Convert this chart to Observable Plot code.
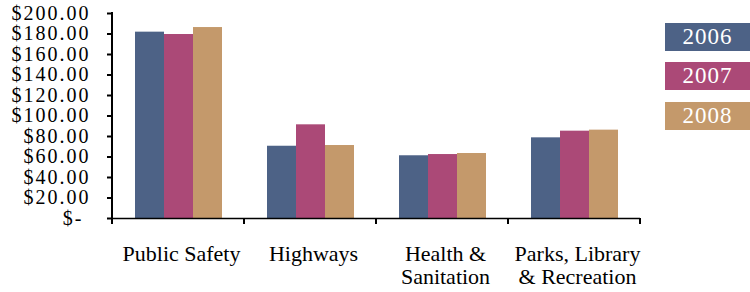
<!DOCTYPE html>
<html>
<head>
<meta charset="utf-8">
<script src="https://cdn.jsdelivr.net/npm/d3@7"></script>
<script src="https://cdn.jsdelivr.net/npm/@observablehq/plot@0.6"></script>
<style>
  html, body { margin: 0; padding: 0; background: #fff; }
  #chart { position: relative; width: 750px; height: 292px; overflow: hidden; font-family: "Liberation Serif", serif; }
  #chart svg { position: absolute; left: 0; top: 0; }
  g[aria-label="y-axis tick label"] text { letter-spacing: 2px; }
  .legend-item { position: absolute; color: #fff; font-size: 23px; letter-spacing: 1px; text-align: center; line-height: 28px; }
</style>
</head>
<body>
<div id="chart"></div>
<script>
const categories = ["Public Safety", "Highways", "Health & Sanitation", "Parks, Library & Recreation"];
const categoryLabels = ["Public Safety", "Highways", "Health &\nSanitation", "Parks, Library\n& Recreation"];
const years = ["2006", "2007", "2008"];
const values2006 = [181.8, 70.5, 61.2, 78.7];
const values2007 = [179.5, 91.4, 62.4, 85.2];
const values2008 = [186.3, 71.2, 63.4, 86.2];
const yTicks = [0, 20, 40, 60, 80, 100, 120, 140, 160, 180, 200];
const colors = ["#4d6286", "#ab4977", "#c4996b"];

const series = [values2006, values2007, values2008];
const data = [];
categories.forEach((c, i) => years.forEach((y, j) => data.push({category: c, year: y, value: series[j][i]})));

const serif = "Liberation Serif";
const yFormat = d => d === 0 ? "$-\u2008" : "$" + d.toFixed(2);
const fxFormat = d => categoryLabels[categories.indexOf(d)];

const plot = Plot.plot({
  width: 750,
  height: 292,
  marginLeft: 110,
  marginRight: 109,
  marginTop: 13,
  marginBottom: 74,
  style: {fontFamily: serif, background: "white", color: "#000"},
  fx: {domain: categories, padding: 0, label: null},
  x: {domain: years, paddingInner: 0, paddingOuter: 0.75, axis: null},
  y: {domain: [0, 200], label: null},
  color: {domain: years, range: colors},
  marks: [
    Plot.barY(data, {fx: "category", x: "year", y: "value", fill: "year"}),
    Plot.ruleY([0], {stroke: "#000", strokeWidth: 1.5}),
    Plot.axisY({ticks: yTicks, tickSize: 5, tickPadding: 17, tickFormat: yFormat, fontSize: 20, fontFamily: serif, strokeWidth: 2, label: null}),
    Plot.axisFx({anchor: "bottom", tickSize: 0, tickPadding: 26, fontSize: 22, fontFamily: serif, lineHeight: 1.05, dx: 3, tickFormat: fxFormat, label: null})
  ]
});

const chart = document.getElementById("chart");
chart.appendChild(plot);
d3.select(plot).selectAll("text").attr("font-family", serif).style("font-family", serif);

// axis line and category boundary ticks, placed with the plot's own scales
const fx = plot.scale("fx");
const y = plot.scale("y");
const svg = d3.select(plot);
const x0 = fx.apply(categories[0]);
const bw = fx.bandwidth;
const y0 = y.apply(0);
const yTop = y.apply(200);
const g = svg.append("g").attr("stroke", "#000").attr("stroke-width", 2);
g.append("line").attr("x1", x0).attr("x2", x0).attr("y1", yTop - 1).attr("y2", y0 + 1);
const bounds = categories.map(c => fx.apply(c)).concat([fx.apply(categories[categories.length - 1]) + bw]);
bounds.forEach(b => g.append("line").attr("x1", b).attr("x2", b).attr("y1", y0).attr("y2", y0 + 6));

// legend boxes on the right
const legendTops = [23, 62, 102];
const color = plot.scale("color");
years.forEach((yr, i) => {
  const d = document.createElement("div");
  d.className = "legend-item";
  d.style.left = "665px";
  d.style.width = "85px";
  d.style.height = "28px";
  d.style.top = legendTops[i] + "px";
  d.style.background = color.apply(yr);
  d.textContent = yr;
  chart.appendChild(d);
});
</script>
</body>
</html>
